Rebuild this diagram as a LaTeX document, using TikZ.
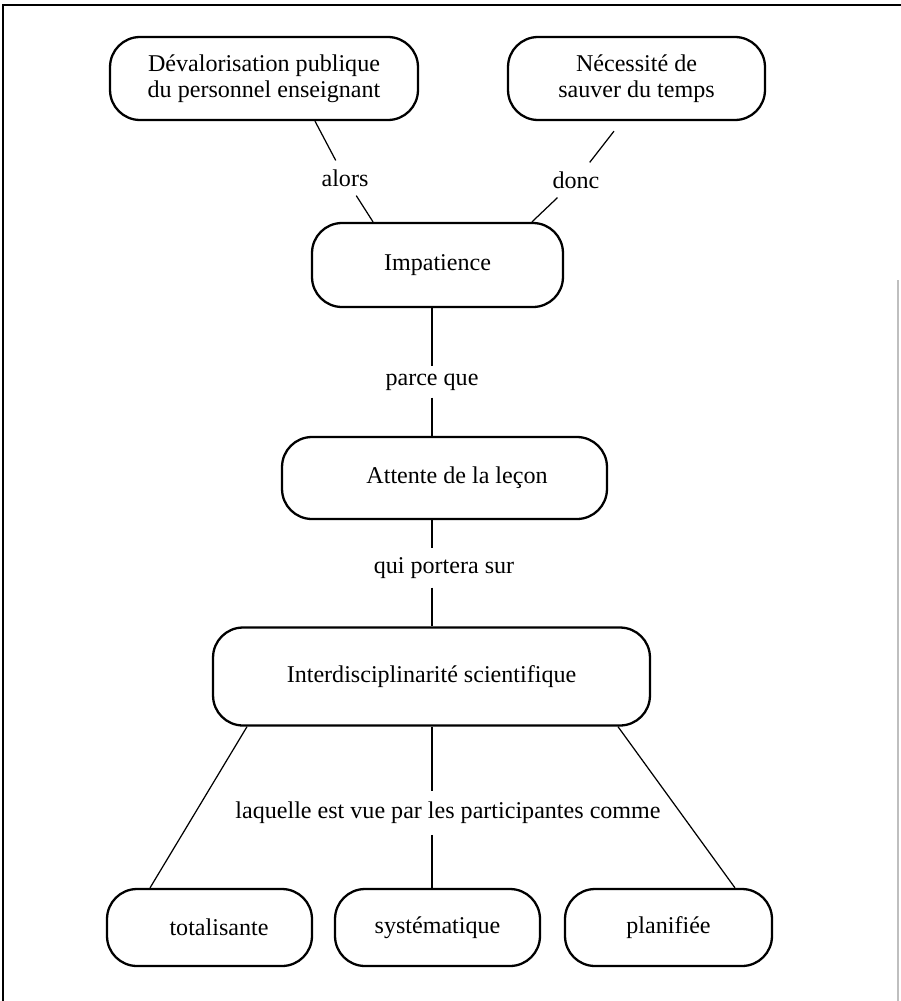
\documentclass[tikz,border=0pt]{standalone}
\usepackage{fontspec}
\setmainfont{Liberation Serif}
\usetikzlibrary{positioning}

\begin{document}
\begin{tikzpicture}[x=0.02cm, y=-0.02cm, font=\fontsize{13.7}{14.8}\selectfont]
    \tikzstyle{concept}=[draw=black, line width=1.3pt, rounded corners=0.6cm, align=center, inner sep=0pt]
    \tikzstyle{link}=[inner xsep=2pt, inner ysep=5pt]
    \tikzstyle{thin link}=[draw=black, line width=0.7pt]
    \tikzstyle{thick link}=[draw=black, line width=1.5pt]

    \useasboundingbox (0,0) rectangle (901,1001);
    % cadre
    \draw[line width=1.4pt] (3,1001) -- (3,5) -- (901,5);
    \draw[black!25, line width=0.6pt] (898,280) -- (898,1001);

    \node[concept, minimum width=6.16cm, minimum height=1.66cm] (devalo) at (264,78.5) {D\'evalorisation publique\\du personnel enseignant};
    \node[concept, minimum width=5.14cm, minimum height=1.66cm] (temps) at (636.5,78.5) {N\'ecessit\'e de\\sauver du temps};

    \node[concept, minimum width=5.02cm, minimum height=1.68cm] (impat) at (437.5,265) {Impatience};
    \node[concept, minimum width=6.5cm, minimum height=1.64cm] (attente) at (444.5,478) {\hspace{0.5cm}Attente de la le\c{c}on};
    \node[concept, minimum width=8.74cm, minimum height=1.96cm] (interdis) at (431.5,676.5) {Interdisciplinarit\'e scientifique};

    \node[concept, minimum width=4.1cm, minimum height=1.54cm] (total) at (209.5,927.5) {\hspace{0.38cm}totalisante};
    \node[concept, minimum width=4.1cm, minimum height=1.54cm] (syst) at (437.5,927.5) {syst\'ematique};
    \node[concept, minimum width=4.14cm, minimum height=1.54cm] (plan) at (668.5,927.5) {planifi\'ee};

    \node[link] (alors) at (345,178) {alors};
    \node[link] (donc) at (576,180) {donc};
    \node[link, inner ysep=4pt] (parce) at (432,382) {parce que};
    \node[link] (qui) at (444,568) {qui portera sur};
    \node[link, inner ysep=6pt] (laquelle) at (448,813) {laquelle est vue par les participantes comme};

    \draw[thin link] ([xshift=1.02cm]devalo.south) -- (alors) -- ([xshift=-1.29cm]impat.north);
    \draw[thin link] ([xshift=-0.45cm, yshift=-0.2cm]temps.south) -- (donc) -- ([xshift=1.89cm]impat.north);

    \draw[thick link] (impat.south -| parce) -- (parce) -- (attente.north -| parce);
    \draw[thick link] (attente.south -| parce) -- (qui.north -| parce);
    \draw[thick link] (qui.south -| parce) -- (interdis.north -| parce);

    \draw[thick link] (interdis.south -| parce) -- (laquelle.north -| parce);
    \draw[thick link] (laquelle.south -| parce) -- (syst.north -| parce);
    \draw[thin link] ([xshift=-3.69cm]interdis.south) -- ([xshift=-1.19cm]total.north);
    \draw[thin link] ([xshift=3.73cm]interdis.south) -- ([xshift=1.33cm]plan.north);
\end{tikzpicture}
\end{document}
